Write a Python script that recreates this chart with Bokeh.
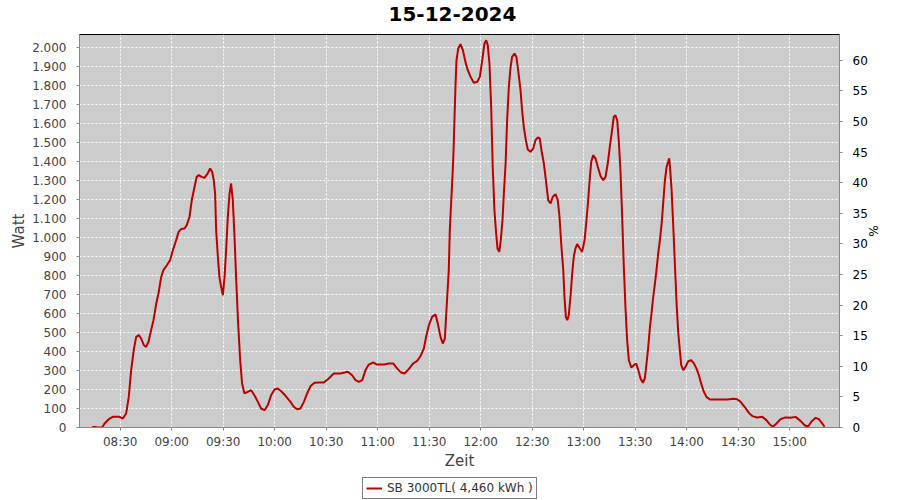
import pandas as pd
from bokeh.plotting import figure
from bokeh.layouts import column
from bokeh.models import (Range1d, LinearAxis, FixedTicker, CustomJSTickFormatter,
                          DatetimeTickFormatter, Legend, LegendItem, ColumnDataSource, Title)
from bokeh.embed import file_html
from bokeh.resources import INLINE

DAY = "2024-12-15"
TITLE = "15-12-2024"
SERIES_NAME = "SB 3000TL( 4,460 kWh )"

times = [
    "08:13:42", "08:15:36", "08:16:30", "08:19:30", "08:20:54", "08:23:48", "08:25:42", "08:29:36",
    "08:31:30", "08:33:30", "08:35:00", "08:36:24", "08:37:54", "08:39:18", "08:40:54", "08:42:12",
    "08:43:48", "08:45:06", "08:46:30", "08:48:00", "08:49:24", "08:51:00", "08:52:18", "08:53:54",
    "08:55:12", "08:57:12", "08:59:06", "09:00:42", "09:02:36", "09:04:00", "09:05:30", "09:07:30",
    "09:08:48", "09:10:24", "09:11:42", "09:13:18", "09:14:36", "09:15:48", "09:17:24", "09:19:06",
    "09:21:00", "09:22:24", "09:23:36", "09:24:30", "09:25:18", "09:25:54", "09:26:54", "09:27:48",
    "09:28:48", "09:29:48", "09:30:48", "09:31:42", "09:32:42", "09:33:42", "09:34:36", "09:35:36",
    "09:36:36", "09:37:36", "09:38:42", "09:39:54", "09:41:00", "09:42:24", "09:44:18", "09:46:18",
    "09:48:12", "09:50:12", "09:52:06", "09:54:06", "09:56:00", "09:57:54", "09:59:54", "10:01:48",
    "10:03:48", "10:06:18", "10:09:12", "10:11:06", "10:13:06", "10:15:00", "10:17:00", "10:18:54",
    "10:20:54", "10:23:12", "10:25:42", "10:28:36", "10:31:30", "10:34:24", "10:38:18", "10:42:36",
    "10:45:06", "10:47:06", "10:49:00", "10:51:00", "10:52:54", "10:54:48", "10:57:24", "10:59:42",
    "11:03:36", "11:06:30", "11:09:00", "11:11:24", "11:13:42", "11:15:36", "11:18:06", "11:20:42",
    "11:23:00", "11:24:54", "11:26:54", "11:28:12", "11:29:48", "11:31:42", "11:33:42", "11:35:00",
    "11:36:36", "11:37:54", "11:39:06", "11:39:30", "11:40:30", "11:41:24", "11:42:00", "11:42:48",
    "11:43:36", "11:44:12", "11:44:42", "11:45:18", "11:45:54", "11:46:54", "11:48:12", "11:49:36",
    "11:51:06", "11:52:30", "11:54:06", "11:56:00", "11:58:00", "11:59:30", "12:00:54", "12:02:12",
    "12:03:12", "12:04:06", "12:05:06", "12:06:06", "12:07:00", "12:08:00", "12:09:00", "12:09:48",
    "12:10:48", "12:11:42", "12:12:42", "12:13:30", "12:14:30", "12:15:24", "12:16:24", "12:17:24",
    "12:18:18", "12:19:42", "12:20:48", "12:21:48", "12:23:12", "12:24:06", "12:25:06", "12:26:18",
    "12:27:24", "12:29:00", "12:30:36", "12:31:54", "12:33:18", "12:34:24", "12:35:24", "12:36:48",
    "12:38:12", "12:39:18", "12:40:42", "12:42:00", "12:43:36", "12:44:54", "12:45:54", "12:46:54",
    "12:48:06", "12:48:48", "12:49:36", "12:50:24", "12:51:18", "12:52:18", "12:53:18", "12:54:12",
    "12:55:12", "12:56:12", "12:57:48", "12:59:06", "13:00:30", "13:01:36", "13:02:36", "13:03:36",
    "13:04:24", "13:05:30", "13:06:54", "13:08:12", "13:09:48", "13:11:24", "13:12:42", "13:14:00",
    "13:15:12", "13:16:24", "13:17:30", "13:18:30", "13:19:30", "13:20:24", "13:21:24", "13:22:24",
    "13:23:18", "13:24:18", "13:25:18", "13:26:18", "13:27:42", "13:29:12", "13:30:36", "13:31:48",
    "13:33:06", "13:34:30", "13:35:36", "13:36:36", "13:37:36", "13:38:36", "13:39:30", "13:40:30",
    "13:41:30", "13:42:24", "13:43:24", "13:44:24", "13:45:24", "13:46:18", "13:47:18", "13:48:18",
    "13:49:12", "13:49:48", "13:50:24", "13:51:12", "13:52:06", "13:53:06", "13:54:06", "13:55:06",
    "13:56:00", "13:56:48", "13:58:00", "13:59:18", "14:00:54", "14:02:36", "14:04:12", "14:05:42",
    "14:07:06", "14:08:24", "14:10:00", "14:11:30", "14:13:30", "14:17:48", "14:23:36", "14:27:30",
    "14:29:24", "14:31:24", "14:33:42", "14:36:12", "14:38:12", "14:41:06", "14:44:00", "14:46:24",
    "14:48:24", "14:50:12", "14:52:18", "14:54:42", "14:57:36", "15:00:30", "15:03:24", "15:06:18",
    "15:08:42", "15:10:36", "15:12:36", "15:15:06", "15:17:00", "15:19:00", "15:20:18",
]
watts = [
    3, 3, 0, 0, 21, 47, 56, 56,
    47, 74, 161, 302, 407, 477, 486, 468,
    433, 424, 451, 512, 565, 652, 705, 793,
    828, 854, 881, 933, 986, 1029, 1044, 1047,
    1065, 1109, 1196, 1266, 1319, 1328, 1319, 1314,
    1337, 1363, 1345, 1301, 1231, 1038, 898, 793,
    740, 696, 793, 933, 1109, 1231, 1284, 1196,
    1003, 775, 547, 354, 232, 179, 188, 196,
    170, 135, 100, 91, 118, 170, 200, 205,
    191, 167, 135, 109, 96, 100, 135, 179,
    218, 235, 237, 237, 258, 284, 284, 293,
    275, 249, 240, 249, 302, 331, 342, 331,
    331, 337, 337, 310, 289, 284, 307, 337,
    351, 375, 416, 477, 538, 582, 595, 547,
    477, 442, 468, 530, 688, 828, 1038, 1187,
    1328, 1459, 1617, 1793, 1933, 1994, 2017, 1986,
    1924, 1880, 1845, 1814, 1819, 1845, 1933, 2021,
    2038, 2012, 1915, 1687, 1372, 1144, 1021, 942,
    924, 986, 1091, 1231, 1389, 1617, 1793, 1898,
    1950, 1968, 1950, 1880, 1775, 1670, 1582, 1512,
    1463, 1451, 1468, 1512, 1526, 1521, 1459, 1389,
    1284, 1196, 1179, 1214, 1228, 1196, 1109, 968,
    828, 688, 582, 565, 591, 688, 810, 898,
    942, 965, 942, 924, 986, 1091, 1196, 1319,
    1398, 1433, 1415, 1372, 1323, 1301, 1319, 1389,
    1477, 1556, 1635, 1643, 1617, 1512, 1354, 1109,
    863, 635, 460, 354, 316, 328, 337, 302,
    258, 235, 258, 337, 424, 530, 600, 688,
    758, 828, 916, 986, 1073, 1179, 1301, 1372,
    1398, 1416, 1354, 1249, 1073, 863, 652, 495,
    407, 328, 302, 319, 349, 354, 337, 310,
    275, 232, 188, 161, 147, 147, 147, 151,
    149, 135, 109, 77, 60, 53, 56, 39,
    16, 4, 21, 44, 53, 51, 56, 35,
    12, 4, 30, 51, 44, 21, 4,
]

x_tick_labels = ["08:30", "09:00", "09:30", "10:00", "10:30", "11:00", "11:30",
                 "12:00", "12:30", "13:00", "13:30", "14:00", "14:30", "15:00"]
y_ticks = [0, 100, 200, 300, 400, 500, 600, 700, 800, 900, 1000, 1100, 1200,
           1300, 1400, 1500, 1600, 1700, 1800, 1900, 2000]
pct_ticks = [0, 5, 10, 15, 20, 25, 30, 35, 40, 45, 50, 55, 60]
x_start, x_end = "08:06:18", "15:29:00"
y_max = 2068
pct_max = 64.2

FONT = "DejaVu Sans"
LINE_COLOR = "#BB0000"


def ts(hm):
    return pd.Timestamp(f"{DAY} {hm}")


src = ColumnDataSource(dict(t=[ts(t) for t in times], w=watts))

p = figure(width=900, height=473, x_axis_type="datetime",
           x_range=Range1d(ts(x_start), ts(x_end)), y_range=Range1d(0, y_max),
           output_backend="svg", toolbar_location=None,
           min_border_left=79, min_border_right=61, min_border_top=34, min_border_bottom=46)

p.title.text = TITLE
p.title.align = "left"
p.title.offset = 309
p.title.vertical_align = "top"
p.title.text_font = FONT
p.title.text_font_size = "20px"
p.title.text_font_style = "bold"
p.title.text_color = "black"
p.title.standoff = 0

# small empty band between the title and the plot area
p.add_layout(Title(text=" ", text_font_size="9px", standoff=0), "above")

p.background_fill_color = "#CCCCCC"
p.border_fill_color = "white"
p.outline_line_color = "black"
p.outline_line_width = 1

r = p.line("t", "w", source=src, line_color=LINE_COLOR, line_width=2)

# x axis
xa = p.xaxis[0]
xa.ticker = FixedTicker(ticks=[ts(t).value // 10**6 for t in x_tick_labels])
fmt = "%H:%M"
xa.formatter = DatetimeTickFormatter(minutes=fmt, hourmin=fmt, hours=fmt, minsec=fmt,
                                     seconds=fmt, days=fmt)
xa.axis_label = "Zeit"

# left axis
ya = p.yaxis[0]
ya.ticker = FixedTicker(ticks=y_ticks)
ya.formatter = CustomJSTickFormatter(code="""
    return Math.round(tick).toString().replace(/\\B(?=(\\d{3})+(?!\\d))/g, '.');
""")
ya.axis_label = "Watt"

# right axis
p.extra_y_ranges = {"pct": Range1d(0, pct_max)}
ra = LinearAxis(y_range_name="pct", ticker=FixedTicker(ticks=pct_ticks), axis_label="%")
p.add_layout(ra, "right")

for ax in (xa, ya, ra):
    ax.axis_line_color = "#888888"
    ax.major_tick_line_color = "#888888"
    ax.major_tick_out = 3
    ax.major_tick_in = 0
    ax.minor_tick_line_color = None
    ax.major_label_text_font = FONT
    ax.major_label_text_font_size = "12px"
    ax.major_label_text_color = "#444444"
    ax.axis_label_text_font = FONT
    ax.axis_label_text_font_style = "normal"
    ax.axis_label_text_color = "#444444"

xa.axis_label_text_font_size = "15px"
ya.axis_label_text_font_size = "15px"
ra.axis_label_text_font_size = "12px"
ra.major_label_text_color = "black"
ra.axis_label_text_color = "black"
xa.major_label_standoff = 4
xa.axis_label_standoff = 0
ya.major_label_standoff = 10
ya.axis_label_standoff = 1
ra.major_label_standoff = 10
ra.axis_label_standoff = -5

for g in (p.xgrid[0], p.ygrid[0]):
    g.grid_line_color = "white"
    g.grid_line_dash = "2 2"
    g.grid_line_width = 1
p.xgrid[0].ticker = xa.ticker
p.ygrid[0].ticker = ya.ticker

# legend row below the chart (the sample line uses the real data, outside this row's ranges)
lf = figure(width=900, height=27, output_backend="svg", toolbar_location=None,
            x_axis_location=None, y_axis_location=None, min_border=0,
            x_range=Range1d(0, 1), y_range=Range1d(0, 1))
lf.grid.visible = False
lf.outline_line_color = None
lf.background_fill_color = "white"
lf.border_fill_color = "white"
sample = lf.line("t", "w", source=src, line_color=LINE_COLOR, line_width=2)

legend = Legend(items=[LegendItem(label=SERIES_NAME, renderers=[sample])],
                location=(283, 1), orientation="horizontal")
legend.border_line_color = "black"
legend.border_line_width = 1
legend.background_fill_color = "white"
legend.background_fill_alpha = 1
legend.label_text_font = FONT
legend.label_text_font_size = "12px"
legend.label_text_color = "#333333"
legend.glyph_width = 16
legend.glyph_height = 12
legend.label_standoff = 5
legend.padding = 3
legend.spacing = 0
legend.margin = 0
legend.label_height = 12
lf.add_layout(legend, "center")

layout = column(p, lf, spacing=0)

open("out.html", "w").write(file_html(layout, INLINE))
